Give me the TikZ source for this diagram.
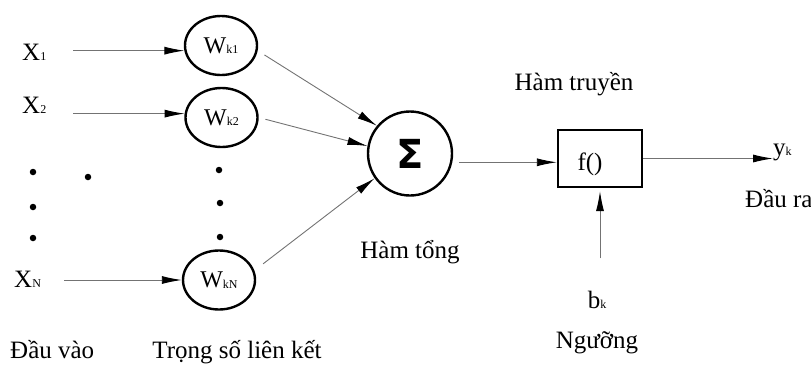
\documentclass[tikz,border=0pt]{standalone}
\usepackage{fontspec}
\setmainfont{Liberation Serif}
\newfontfamily\sigmafont{DejaVu Sans}
\usetikzlibrary{arrows.meta,shapes.geometric}

% small lowered index used in the labels
\newcommand\idx[1]{\raisebox{-0.5pt}{\fontsize{12}{12}\selectfont #1}}

\begin{document}
\begin{tikzpicture}[x=1pt,y=-1pt,
  lbl/.style={font=\fontsize{25}{25}\selectfont, inner sep=0pt},
  wnode/.style={ellipse, draw, line width=2.4pt, minimum width=72pt, minimum height=59pt,
                inner sep=0pt, font=\fontsize{24}{24}\selectfont},
  conn/.style={draw=black!55, line width=0.9pt,
               -{Latex[length=20pt,width=8pt,color=black]}},
  dotmark/.style={circle, fill=black, draw=none, inner sep=0pt, minimum size=6.5pt}
]
\useasboundingbox (0,0) rectangle (811,365);

% inputs
\node[lbl, anchor=base west] (x1) at (22,60)  {X\idx{1}};
\node[lbl, anchor=base west] (x2) at (22,113) {X\idx{2}};
\node[lbl, anchor=base west] (xn) at (14,287) {X\idx{N}};

% weights
\node[wnode] (wk1) at (221,45.5)  {W\idx{k1}};
\node[wnode] (wk2) at (221.5,117.5) {W\idx{k2}};
\node[wnode] (wkn) at (219,280)   {W\idx{kN}};

% ellipsis dots
\node[dotmark] (d1) at (33,172)  {};
\node[dotmark] (d2) at (88,177)  {};
\node[dotmark] (d3) at (33,207)  {};
\node[dotmark] (d4) at (33,238)  {};
\node[dotmark] (d5) at (219,170) {};
\node[dotmark] (d6) at (220,203) {};
\node[dotmark] (d7) at (220,237) {};

% summation
\node[circle, draw, line width=2.4pt, minimum size=84pt, inner sep=0pt,
      font=\sigmafont\bfseries\fontsize{40}{40}\selectfont] (sig) at (410,153.5) {Σ};

% transfer function
\node[rectangle, draw, line width=2.4pt, minimum width=84pt, minimum height=57pt,
      inner sep=0pt] (box) at (600,158.5) {};
\node[lbl, anchor=base] (fx) at (590,170) {f()};

% output and threshold
\node[lbl, anchor=base west] (yk) at (773,155) {y\idx{k}};
\node[lbl, anchor=base] (bk) at (597,308) {b\idx{k}};

% captions
\node[lbl, anchor=base] (ht) at (574,90) {Hàm truyền};
\node[lbl, anchor=base] (hs) at (410,258) {Hàm tổng};
\node[lbl, anchor=base west] (dr) at (745,207) {Đầu ra};
\node[lbl, anchor=base] (ng) at (597,348) {Ngưỡng};
\node[lbl, anchor=base west] (dv) at (10,358) {Đầu vào};
\node[lbl, anchor=base] (ts) at (237,358) {Trọng số liên kết};

% input connectors
\draw[conn, shorten <=27pt] (x1.east |- wk1.188) -- (wk1.188);
\draw[conn, shorten <=27pt] (x2.east |- wk2.174) -- (wk2.174);
\draw[conn, shorten <=23pt] (xn.east |- wkn.west) -- (wkn.west);

% weights to summation
\draw[conn, shorten <=8pt] (wk1.-8) -- (sig.140);
\draw[conn, shorten <=7pt] (wk2.east) -- (sig.170);
\draw[conn, shorten <=11pt] (wkn.15) -- (sig.215);

% summation to transfer function to output
\draw[conn, shorten <=6pt] (sig.east |- box.185) -- (box.185);
\draw[conn] (box.east) -- (box.east -| yk.west);

% threshold
\draw[conn, shorten <=32pt, shorten >=3pt] (box.south |- bk.north) -- (box.south);
\end{tikzpicture}
\end{document}
